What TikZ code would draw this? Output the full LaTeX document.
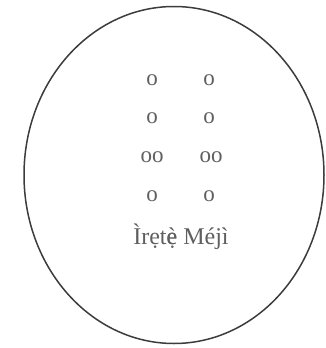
\documentclass[tikz,border=0pt]{standalone}
\usepackage{fontspec}
\setmainfont{Liberation Serif}
\usepackage{tikz}
\usetikzlibrary{positioning,shapes.geometric}
\definecolor{odumark}{RGB}{95,95,95}
\definecolor{oduline}{RGB}{60,60,60}
% e with dot below and grave, stacked by hand
\newcommand{\edotgrave}{\ooalign{ẹ\cr è\cr}}

\begin{document}
\begin{tikzpicture}[x=1pt, y=-1pt,
      odusign/.style={inner sep=0pt, font=\fontsize{23}{24}\selectfont, color=odumark},
      oduname/.style={inner sep=0pt, font=\fontsize{24}{28}\selectfont, color=odumark}
    ]
    \useasboundingbox (0,0) rectangle (325,348);
    \node[draw=oduline, line width=1.5pt, ellipse, minimum width=300pt, minimum height=337pt, inner sep=0pt]
      (tray) at (174,175) {};

    % left leg
    \node[odusign] (l1) at (152,80) {o};
    \node[odusign] (l2) at (152,118) {o};
    \node[odusign] (l3) at (152,157) {oo};
    \node[odusign] (l4) at (152,196) {o};
    % right leg
    \node[odusign] (r1) at (209,80) {o};
    \node[odusign] (r2) at (209,118) {o};
    \node[odusign] (r3) at (211,157) {oo};
    \node[odusign] (r4) at (209,196) {o};

    \node[oduname] (name) at (181,237) {Ìrẹt\edotgrave{} Méjì};
  \end{tikzpicture}
\end{document}
